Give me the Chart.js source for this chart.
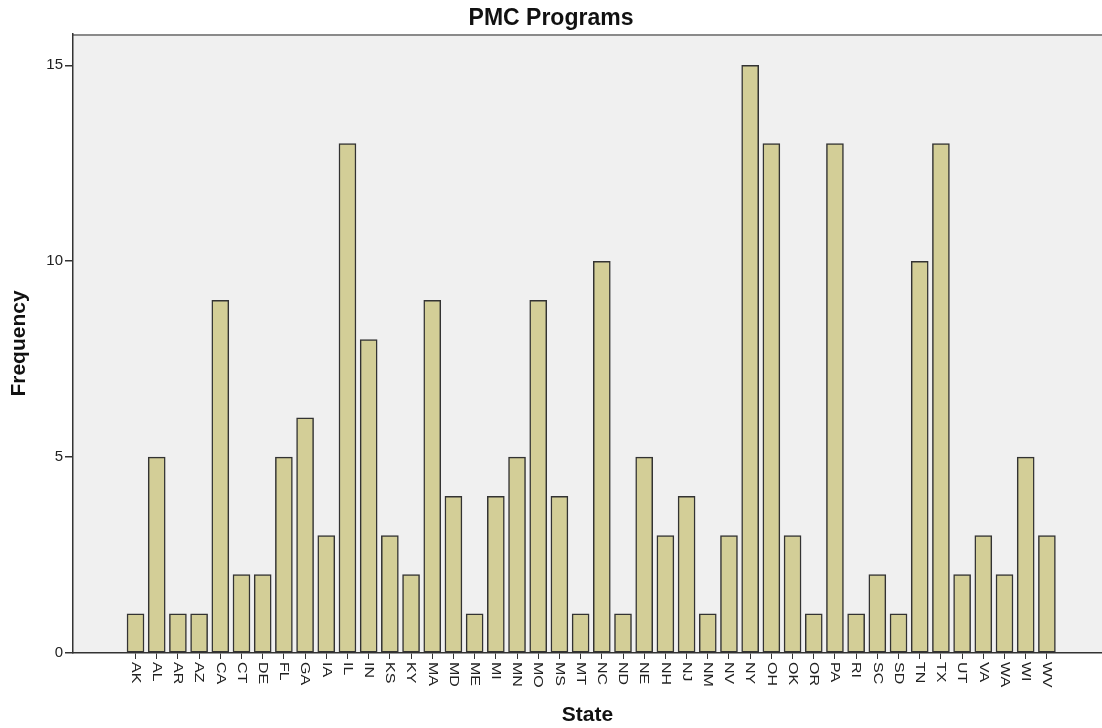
<!DOCTYPE html>
<html>
<head>
<meta charset="utf-8">
<title>PMC Programs</title>
<script src="https://cdn.jsdelivr.net/npm/chart.js@4/dist/chart.umd.min.js"></script>
<style>
  html, body { margin: 0; padding: 0; background: #fff; }
  #wrap { width: 1102px; height: 728px; }
</style>
</head>
<body>
<div id="wrap"><canvas id="barChart"></canvas></div>
<script>
const states = ["AK", "AL", "AR", "AZ", "CA", "CT", "DE", "FL", "GA", "IA", "IL", "IN", "KS", "KY",
  "MA", "MD", "ME", "MI", "MN", "MO", "MS", "MT", "NC", "ND", "NE", "NH", "NJ", "NM", "NV", "NY",
  "OH", "OK", "OR", "PA", "RI", "SC", "SD", "TN", "TX", "UT", "VA", "WA", "WI", "WV"];
const frequency = [1, 5, 1, 1, 9, 2, 2, 5, 6, 3, 13, 8, 3, 2,
  9, 4, 1, 4, 5, 9, 4, 1, 10, 1, 5, 3, 4, 1, 3, 15,
  13, 3, 1, 13, 1, 2, 1, 10, 13, 2, 3, 2, 5, 3];
const yTicks = [0, 5, 10, 15];

const FONT = "'Liberation Sans', Arial, sans-serif";

// fond gris de la zone de tracé
const plotBg = {
  id: "plotBg",
  beforeDraw(chart) {
    const { ctx, chartArea: a } = chart;
    ctx.save();
    ctx.fillStyle = "#f0f0f0";
    ctx.fillRect(a.left, a.top, a.right - a.left, a.bottom - a.top);
    ctx.strokeStyle = "#8a8a8a";
    ctx.lineWidth = 2;
    ctx.beginPath();
    ctx.moveTo(a.left, a.top + 1);
    ctx.lineTo(a.right, a.top + 1);
    ctx.stroke();
    ctx.restore();
  }
};

// étiquettes verticales (lues de haut en bas), un peu tassées
const stateLabels = {
  id: "stateLabels",
  afterDraw(chart) {
    const { ctx, scales } = chart;
    const y0 = scales.y.getPixelForValue(0) + 9;
    ctx.save();
    ctx.fillStyle = "#222";
    ctx.font = "16px " + FONT;
    ctx.textAlign = "left";
    ctx.textBaseline = "middle";
    states.forEach((s, i) => {
      const x = scales.x.getPixelForValue(i);
      ctx.save();
      ctx.translate(x, y0);
      ctx.rotate(Math.PI / 2);
      ctx.scale(1, 0.85);
      ctx.fillText(s, 0, 0);
      ctx.restore();
    });
    ctx.restore();
  }
};

const ctx = document.getElementById("barChart").getContext("2d");
const barChart = new Chart(ctx, {
  type: "bar",
  data: {
    datasets: [{
      label: "Frequency",
      data: frequency.map((v, i) => ({ x: i, y: v })),
      backgroundColor: "#d3ce97",
      borderColor: "#333",
      borderWidth: 1.5,
      borderSkipped: false,
      barThickness: 17
    }]
  },
  options: {
    responsive: true,
    maintainAspectRatio: false,
    animation: false,
    layout: { padding: 0 },
    plugins: {
      legend: { display: false },
      tooltip: { enabled: false },
      title: {
        display: true,
        text: "PMC Programs",
        color: "#111",
        font: { family: FONT, size: 23, weight: "bold" },
        padding: { top: 5, bottom: 1.4 }
      }
    },
    scales: {
      x: {
        type: "linear",
        offset: false,
        min: -2.95,
        max: 45.6,
        afterBuildTicks(scale) {
          scale.ticks = states.map((s, i) => ({ value: i }));
        },
        afterFit(scale) { scale.height = 75; },
        ticks: { display: false },
        grid: { offset: false, drawOnChartArea: false, tickLength: 6, color: "#333", lineWidth: 1 },
        border: { color: "#333", width: 1.5 },
        title: {
          display: true,
          text: "State",
          color: "#111",
          font: { family: FONT, size: 21, weight: "bold" },
          padding: { top: 0, bottom: 0 }
        }
      },
      y: {
        min: 0,
        max: 15.8,
        afterBuildTicks(scale) {
          scale.ticks = yTicks.map(v => ({ value: v }));
        },
        afterFit(scale) { scale.width = 73; },
        ticks: {
          color: "#222",
          padding: 2,
          font: { family: FONT, size: 15 }
        },
        grid: { drawOnChartArea: false, tickLength: 8, color: "#333", lineWidth: 1.5 },
        border: { color: "#333", width: 1.5 },
        title: {
          display: true,
          text: "Frequency",
          color: "#111",
          font: { family: FONT, size: 21, weight: "bold" },
          padding: { top: 7, bottom: 0 }
        }
      }
    }
  },
  plugins: [plotBg, stateLabels]
});
</script>
</body>
</html>
